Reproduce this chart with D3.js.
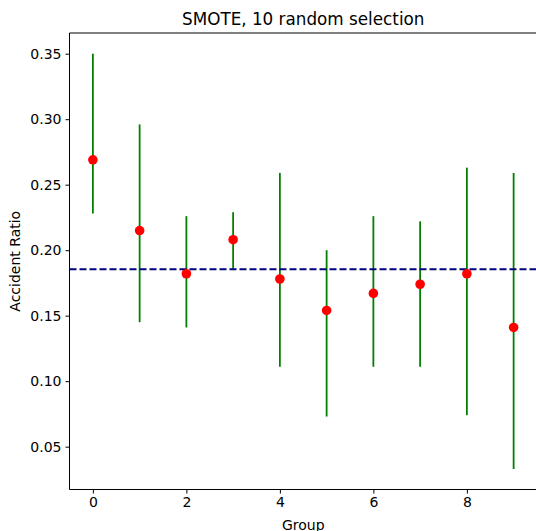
<!DOCTYPE html>
<html>
<head>
<meta charset="utf-8">
<script src="https://cdn.jsdelivr.net/npm/d3@7"></script>
<style>
body { margin: 0; background: #fff; }
svg { font-family: "DejaVu Sans", sans-serif; }
</style>
</head>
<body>
<svg width="536" height="531"></svg>
<script>
// values
var groups = [0, 1, 2, 3, 4, 5, 6, 7, 8, 9];
var ratio  = [0.269, 0.215, 0.182, 0.208, 0.178, 0.154, 0.167, 0.174, 0.182, 0.141];
var upper  = [0.350, 0.296, 0.226, 0.229, 0.259, 0.200, 0.226, 0.222, 0.263, 0.259];
var lower  = [0.228, 0.145, 0.141, 0.186, 0.111, 0.073, 0.111, 0.111, 0.074, 0.033];
var meanRatio = 0.1855;
var xTicks = [0, 2, 4, 6, 8];
var yTicks = [0.05, 0.10, 0.15, 0.20, 0.25, 0.30, 0.35];

var svg = d3.select("svg");
var plotL = 69.5, plotR = 537, plotT = 33, plotB = 489.5;

var x = d3.scaleLinear().domain([-0.5, 9.5]).range([plotL, plotR]);
var y = d3.scaleLinear().domain([0.0173, 0.3658]).range([plotB, plotT]);

var g = svg.append("g");

// error bars
g.selectAll("line.err")
  .data(groups)
  .enter().append("line")
  .attr("class", "err")
  .attr("x1", function(d) { return x(d); })
  .attr("x2", function(d) { return x(d); })
  .attr("y1", function(d, i) { return y(upper[i]); })
  .attr("y2", function(d, i) { return y(lower[i]); })
  .attr("stroke", "#008000")
  .attr("stroke-width", 1.8);

// mean line
g.append("line")
  .attr("x1", plotL).attr("x2", plotR)
  .attr("y1", y(meanRatio)).attr("y2", y(meanRatio))
  .attr("stroke", "#000080")
  .attr("stroke-width", 2)
  .attr("stroke-dasharray", "7,3");

// points
g.selectAll("circle")
  .data(groups)
  .enter().append("circle")
  .attr("cx", function(d) { return x(d); })
  .attr("cy", function(d, i) { return y(ratio[i]); })
  .attr("r", 4.8)
  .attr("fill", "#ff0000");

// axes
var xAxis = svg.append("g")
  .attr("transform", "translate(0," + plotB + ")")
  .call(d3.axisBottom(x).tickValues(xTicks).tickSize(4).tickPadding(4).tickFormat(d3.format("d")));
var yAxis = svg.append("g")
  .attr("transform", "translate(" + plotL + ",0)")
  .call(d3.axisLeft(y).tickValues(yTicks).tickSize(4).tickPadding(4).tickFormat(d3.format(".2f")));

[xAxis, yAxis].forEach(function(a) {
  a.select(".domain").attr("stroke", "#000").attr("stroke-width", 1);
  a.selectAll(".tick line").attr("stroke", "#000").attr("stroke-width", 1);
  a.selectAll("text").attr("fill", "#000").style("font-size", "14px")
    .style("font-family", "DejaVu Sans");
});
xAxis.select(".domain").attr("d", "M" + plotL + ",0H" + plotR);
yAxis.select(".domain").attr("d", "M0," + plotB + "V" + plotT);

// top spine
svg.append("line")
  .attr("x1", plotL).attr("x2", plotR)
  .attr("y1", plotT).attr("y2", plotT)
  .attr("stroke", "#000").attr("stroke-width", 1);

// title and labels
svg.append("text")
  .attr("x", (plotL + plotR) / 2).attr("y", 25)
  .attr("text-anchor", "middle")
  .style("font-size", "16.8px")
  .text("SMOTE, 10 random selection");

svg.append("text")
  .attr("x", (plotL + plotR) / 2).attr("y", 530)
  .attr("text-anchor", "middle")
  .style("font-size", "14px")
  .text("Group");

svg.append("text")
  .attr("transform", "translate(20," + (plotT + plotB) / 2 + ") rotate(-90)")
  .attr("text-anchor", "middle")
  .style("font-size", "14px")
  .text("Accident Ratio");
</script>
</body>
</html>
